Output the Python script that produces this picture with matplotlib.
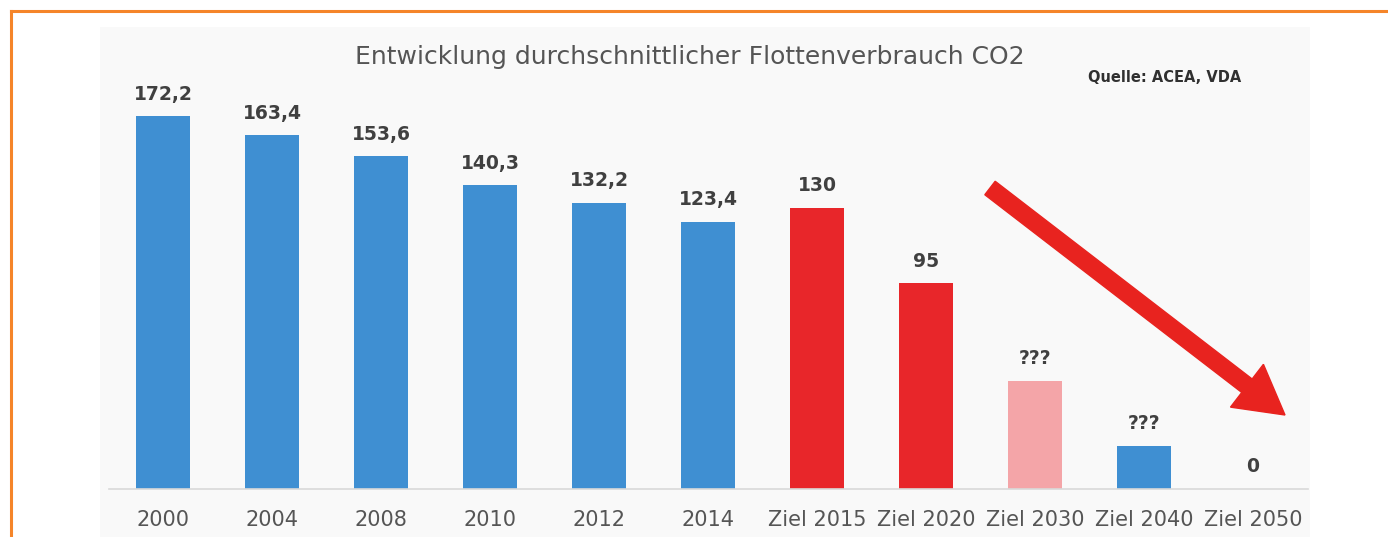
import matplotlib
matplotlib.use("Agg")
import matplotlib.pyplot as plt
from matplotlib.patches import Rectangle, FancyArrow
from matplotlib.lines import Line2D

categories = ["2000", "2004", "2008", "2010", "2012", "2014",
              "Ziel 2015", "Ziel 2020", "Ziel 2030", "Ziel 2040", "Ziel 2050"]
values = [172.2, 163.4, 153.6, 140.3, 132.2, 123.4, 130, 95, 50, 20, 0]
labels = ["172,2", "163,4", "153,6", "140,3", "132,2", "123,4", "130", "95", "???", "???", "0"]
colors = ["#3f8fd2"] * 6 + ["#e8262a", "#e8262a", "#f4a5a8", "#3f8fd2", "#3f8fd2"]

title = "Entwicklung durchschnittlicher Flottenverbrauch CO2"
source = "Quelle: ACEA, VDA"

W, H = 1388, 537
fig = plt.figure(figsize=(W / 100, H / 100), dpi=100)
fig.patch.set_facecolor("white")

font = ["DejaVu Sans"]

# overlay axes in pixel coords for decoration
deco = fig.add_axes([0, 0, 1, 1], zorder=0)
deco.set_xlim(0, W)
deco.set_ylim(H, 0)
deco.axis("off")
deco.add_patch(Rectangle((100, 27), 1210, 520, facecolor="#f9f9f9", edgecolor="none"))
deco.add_line(Line2D([11, W], [11, 11], color="#f5852a", lw=2.2))
deco.add_line(Line2D([11, 11], [11, H], color="#f5852a", lw=2.2))

ax = fig.add_axes([108.5 / W, 48 / H, 1199 / W, 433 / H], zorder=1)
ax.patch.set_alpha(0)
x = list(range(len(categories)))
bars = ax.bar(x, values, width=0.5, color=colors, zorder=2)
ax.set_xlim(-0.5, len(categories) - 0.5)
ax.set_ylim(0, 200)
for s in ["top", "right", "left"]:
    ax.spines[s].set_visible(False)
ax.spines["bottom"].set_color("#d9d9d9")
ax.spines["bottom"].set_linewidth(1.2)
ax.set_yticks([])
ax.set_xticks(x)
ax.set_xticklabels(categories, family=font, fontsize=15, color="#555555")
ax.tick_params(axis="x", length=0, pad=15)

for xi, v, lab in zip(x, values, labels):
    ax.annotate(lab, (xi, v), xytext=(0, 9), textcoords="offset points",
                ha="center", va="bottom", family=font, fontsize=13.5,
                color="#404040", fontweight="bold")

fig.text(690 / W, 1 - 57 / H, title, ha="center", va="center", family=font,
         fontsize=18, color="#555555")
fig.text(1165 / W, 1 - 77 / H, source, ha="center", va="center", family=font,
         fontsize=10.5, color="#303030", fontweight="bold")

# red arrow (pixel coords)
arrow_dx, arrow_dy = 295, 227
deco.add_patch(FancyArrow(990, 188, arrow_dx, arrow_dy, width=17, head_width=54,
                          head_length=48, length_includes_head=True,
                          color="#e8231f", zorder=3))
fig.savefig("out.png", dpi=100)
